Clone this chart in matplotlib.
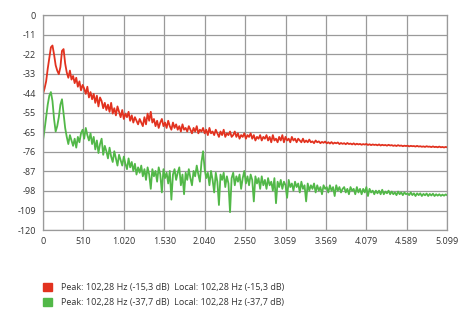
import numpy as np
import matplotlib.pyplot as plt
from matplotlib.patches import Patch

# FFT spectrum (dB), 256 bins from 0 to 5099 Hz
red_db = [-44, -41, -37, -30, -24, -18, -17, -22, -28, -31,
          -33, -29, -20, -19, -27, -32, -35, -31, -36, -34,
          -38, -35, -40, -37, -42, -39, -41, -44, -40, -46,
          -43, -47, -44, -49, -45, -51, -46, -48, -52, -49,
          -53, -50, -54, -49, -55, -52, -56, -51, -54, -57,
          -53, -58, -55, -57, -54, -59, -56, -60, -57, -59,
          -61, -58, -60, -62, -57, -61, -55, -59, -54, -60,
          -58, -62, -59, -63, -60, -58, -62, -60, -63, -59,
          -62, -64, -60, -63, -61, -64, -62, -65, -61, -64,
          -63, -65, -62, -64, -66, -63, -65, -62, -66, -64,
          -65, -63, -66, -64, -67, -63, -66, -65, -67, -64,
          -66, -68, -65, -67, -64, -68, -66, -67, -65, -68,
          -67, -65, -68, -66, -69, -67, -68, -66, -69, -67,
          -68, -66, -69, -67, -70, -68, -69, -67, -70, -68,
          -69, -67, -70, -68, -71, -67, -70, -69, -71, -68,
          -70, -67, -71, -68, -70, -69, -71, -68, -70, -69,
          -71, -69, -70, -71, -69, -71, -70, -71, -69.5, -71,
          -70.5, -71.5, -70, -71, -70.5, -71.5, -70.8, -71.3, -70.6, -71.6,
          -71, -71.7, -70.9, -71.8, -71.2, -71.6, -71.1, -72, -71.4, -71.9,
          -71.5, -72.1, -71.4, -72, -71.7, -72.2, -71.6, -72.3, -71.8, -72.2,
          -71.9, -72.4, -72, -72.3, -71.9, -72.5, -72.1, -72.6, -72.2, -72.5,
          -72.3, -72.7, -72.2, -72.8, -72.4, -72.7, -72.5, -72.9, -72.4, -72.8,
          -72.6, -73, -72.7, -73.1, -72.6, -73, -72.8, -73.2, -72.9, -73.1,
          -72.9, -73.3, -73, -73.2, -73.1, -73.4, -73, -73.4, -73.2, -73.5,
          -73.3, -73.6, -73.2, -73.5, -73.4, -73.7, -73.3, -73.7, -73.5, -73.8,
          -73.4, -73.8, -73.6, -73.9, -73.6, -73.8]

green_db = [-70, -64, -57, -50, -45, -43, -48, -58, -65, -62,
            -57, -50, -47, -55, -63, -68, -72, -67, -70, -73,
            -69, -74, -68, -71, -66, -64, -69, -63, -67, -70,
            -66, -72, -68, -75, -70, -77, -72, -69, -78, -73,
            -76, -80, -74, -79, -82, -76, -80, -84, -78, -81,
            -84, -79, -83, -86, -80, -85, -82, -87, -83, -89,
            -85, -88, -84, -90, -86, -92, -85, -89, -97, -86,
            -90, -87, -93, -85, -89, -99, -86, -91, -88, -94,
            -87, -103, -89, -86, -92, -88, -85, -95, -89, -100,
            -88, -92, -86, -91, -95, -87, -90, -84, -89, -93,
            -82, -76, -86, -91, -88, -95, -87, -92, -99, -88,
            -93, -106, -89, -92, -88, -96, -90, -94, -110, -91,
            -88, -95, -90, -93, -89, -97, -91, -87, -94, -90,
            -95, -89, -92, -104, -90, -94, -91, -97, -90, -95,
            -92, -97, -91, -95, -93, -98, -91, -105, -93, -96,
            -92, -97, -93, -95, -102, -92, -96, -94, -98, -93,
            -96, -94, -99, -93, -97, -95, -104, -94, -98, -95,
            -97, -94, -99, -95, -98, -96, -100, -95, -97, -96,
            -99, -95, -98, -96, -101, -95, -98, -96, -99, -97,
            -96, -99, -97, -100, -96, -98, -97, -100, -96, -99,
            -97, -100, -97, -99, -96, -101, -97, -99, -98, -100,
            -98, -99.5, -98, -100, -97.5, -100, -98.5, -99.5, -98, -100,
            -98.5, -100, -99, -100.5, -98.5, -100, -99, -100.5, -99, -100,
            -99.5, -100.5, -99, -100.5, -99.5, -101, -99.5, -100.5, -99.5, -101,
            -99.8, -100.6, -99.6, -101, -99.8, -100.7, -99.7, -101, -100, -100.8,
            -100, -100.9, -100.2, -100.8, -100.1, -100.6]

freq = np.linspace(0, 5099, len(red_db))

x_ticks = np.linspace(0, 5099, 11)
x_labels = ['0', '510', '1.020', '1.530', '2.040', '2.550', '3.059',
            '3.569', '4.079', '4.589', '5.099']
y_ticks = np.linspace(0, -120, 12)
y_labels = ['0', '-11', '-22', '-33', '-44', '-55', '-65', '-76',
            '-87', '-98', '-109', '-120']

legend_labels = ['Peak: 102,28 Hz (-15,3 dB)  Local: 102,28 Hz (-15,3 dB)',
                 'Peak: 102,28 Hz (-37,7 dB)  Local: 102,28 Hz (-37,7 dB)']

red = '#e2321f'
green = '#52b848'

plt.rcParams['font.family'] = ['Open Sans', 'DejaVu Sans']

fig = plt.figure(figsize=(4.62, 3.2), dpi=100)
ax = fig.add_axes([0.093, 0.281, 0.875, 0.672])

ax.plot(freq, red_db, color=red, lw=1.3)
ax.plot(freq, green_db, color=green, lw=1.3)

ax.set_xlim(0, 5099)
ax.set_ylim(-120, 0)
ax.set_xticks(x_ticks)
ax.set_xticklabels(x_labels)
ax.set_yticks(y_ticks)
ax.set_yticklabels(y_labels)
ax.tick_params(length=0, labelsize=6.5, colors='#333333', pad=5)
ax.grid(True, color='#9a9a9a', lw=0.9)
ax.set_axisbelow(True)
for s in ax.spines.values():
    s.set_color('#9a9a9a')
    s.set_linewidth(0.9)

handles = [Patch(color=red), Patch(color=green)]
fig.legend(handles, legend_labels, loc='upper left',
           bbox_to_anchor=(0.075, 0.14), frameon=False, fontsize=6.5,
           handlelength=1.0, handleheight=1.0, handletextpad=1.0,
           labelspacing=0.6, labelcolor='#333333')

fig.savefig('out.png', dpi=100)
